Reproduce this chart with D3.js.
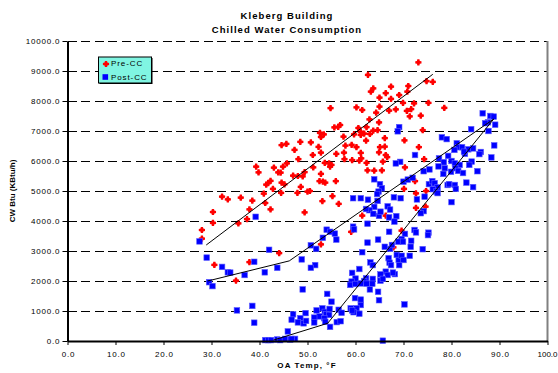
<!DOCTYPE html>
<html>
<head>
<meta charset="utf-8">
<script src="https://cdn.jsdelivr.net/npm/d3@7"></script>
<style>
  html, body { margin: 0; padding: 0; background: #ffffff; }
  svg { display: block; font-family: Arial, "Liberation Sans", sans-serif; }
</style>
</head>
<body>
<svg id="chart" width="558" height="373"></svg>
<script>
// Chart text
const titleLines = ["Kleberg Building", "Chilled Water Consumption"];
const xTitle = "OA Temp, \u00B0F";
const yTitle = "CW Btu (KBtu/h)";
const seriesNames = ["Pre-CC", "Post-CC"];

// Axis ticks
const xTicks = [0, 10, 20, 30, 40, 50, 60, 70, 80, 90, 100];
const yTicks = [0, 1000, 2000, 3000, 4000, 5000, 6000, 7000, 8000, 9000, 10000];

// Pre-CC hourly readings: [outside air temp (F), chilled water (KBtu/h)]
const preCC = [
  [44.6,6530],[45.6,6570],[39.3,5810],[39.8,5620],[43.0,5780],[43.9,5620],[44.4,5610],[44.9,5810],
  [45.7,5920],[42.3,5340],[41.8,5260],[41.4,5210],[42.8,5070],[44.6,5280],[45.2,5220],[44.5,4940],
  [40.9,4910],[32.2,4810],[33.4,4720],[36.1,4780],[38.5,4680],[41.2,4600],[42.3,4390],[37.9,4390],
  [30.3,4300],[30.3,3940],[35.6,3920],[37.4,4060],[28.0,3700],[28.0,3410],[30.6,2540],[37.9,2630],
  [44.1,2930],[35.1,2010],[62.6,8870],[63.7,8420],[63.2,8310],[67.4,8480],[66.3,8260],[65.0,8110],
  [67.4,8070],[54.8,7760],[60.2,7790],[61.4,7700],[65.0,7810],[67.0,7680],[64.3,7610],[62.9,7390],
  [64.9,7290],[55.6,7120],[56.4,7140],[56.8,7200],[60.6,7100],[62.3,7130],[64.6,7030],[63.7,7010],
  [52.6,6940],[53.4,6890],[52.8,6800],[57.5,6810],[59.7,6890],[61.1,6970],[61.8,6910],[61.1,6870],
  [63.0,6900],[62.2,6680],[66.1,6760],[48.5,6640],[50.7,6620],[47.3,6370],[52.3,6470],[57.9,6510],
  [59.2,6540],[60.2,6460],[65.1,6460],[66.1,6480],[52.8,6280],[51.1,6200],[56.0,6240],[57.6,6280],
  [61.1,6270],[64.9,6290],[66.3,6200],[66.6,6130],[48.1,6060],[57.7,6060],[59.3,6030],[61.2,6090],
  [60.8,6010],[62.3,5940],[65.7,5980],[53.6,5940],[54.5,5920],[55.0,5870],[54.7,5810],[51.2,5790],
  [49.4,5630],[62.5,5690],[63.9,5680],[65.5,5690],[47.0,5510],[48.0,5500],[49.0,5490],[52.8,5570],
  [52.5,5330],[53.2,5310],[53.7,5280],[55.9,5330],[48.6,5140],[50.0,4980],[50.5,5000],[47.9,4940],
  [53.1,4660],[55.2,4830],[56.5,4570],[49.4,4290],[61.4,4180],[66.3,4180],[59.1,3640],[52.8,3220],
  [67.9,3120],[73.1,9290],[74.8,8660],[76.1,8640],[71.0,8500],[70.8,8310],[69.1,8200],[69.9,7940],
  [72.2,7920],[75.2,7940],[68.4,7720],[70.7,7670],[71.6,7730],[78.5,7770],[71.3,7490],[73.6,7510],
  [74.0,7030],[70.2,6690],[73.2,6460],[70.3,5790],[74.3,6060],[72.4,5330],[70.1,5070],[72.6,4920],
  [74.7,5000],[72.6,4440],[74.6,4480],[69.6,3680]
];

// Post-CC hourly readings: [outside air temp (F), chilled water (KBtu/h)]
const postCC = [
  [27.5,3320],[39.2,4140],[42.0,3040],[29.0,2780],[32.2,2470],[33.4,2290],[33.9,2280],[36.9,2200],
  [38.9,2640],[41.1,2290],[43.7,2440],[29.5,1960],[30.2,1830],[35.3,1020],[38.5,1170],[38.9,610],
  [45.9,320],[41.2,30],[41.8,30],[42.4,30],[43.7,50],[44.3,30],[45.3,70],[46.4,50],
  [59.5,4760],[61.1,4760],[62.6,4710],[64.6,4670],[63.9,4470],[62.9,4360],[62.2,4400],[66.7,4490],
  [67.2,4380],[63.7,4240],[64.9,4170],[65.2,4310],[62.5,3910],[67.0,4120],[68.5,4160],[68.1,3980],
  [59.5,3810],[59.7,3720],[54.0,3710],[54.7,3640],[55.7,3580],[53.2,3440],[56.0,3380],[67.0,3640],
  [64.7,3380],[62.5,3280],[50.7,3190],[51.8,3070],[66.1,3140],[67.2,3070],[67.6,3200],[48.8,2720],
  [51.6,2530],[50.7,2440],[61.4,2960],[63.1,2620],[63.6,2530],[60.8,2400],[66.9,2760],[67.1,2610],
  [67.4,2530],[68.6,2870],[69.0,2700],[66.3,2310],[66.7,2200],[59.3,2270],[60.0,2080],[59.2,1980],
  [62.2,2090],[61.8,2000],[62.3,1910],[63.6,2070],[63.5,1910],[63.0,1720],[65.2,2220],[65.2,2010],
  [65.7,2070],[58.9,1870],[60.0,1900],[61.1,1920],[64.7,1640],[49.0,1720],[54.1,1570],[59.9,1430],
  [61.1,1380],[55.0,1310],[64.9,1360],[61.1,1200],[60.2,1090],[60.8,910],[59.6,960],[59.0,1090],
  [59.3,1020],[53.1,1090],[51.9,1020],[53.6,970],[54.6,1070],[53.9,890],[54.5,870],[52.5,820],
  [53.5,760],[53.7,640],[54.7,470],[56.5,1040],[57.1,940],[47.0,890],[49.6,930],[48.5,760],
  [49.2,590],[49.7,670],[51.4,780],[51.4,620],[48.0,620],[46.7,710],[56.1,630],[56.9,660],
  [47.4,70],[46.7,70],[65.7,10],[63.9,5390],[65.1,5230],[65.5,5090],[64.8,4980],[64.5,4900],
  [68.0,4790],[86.5,7590],[88.1,7500],[88.8,7480],[87.6,7290],[89.1,7210],[87.0,7260],[87.7,7000],
  [84.1,7060],[69.1,7130],[68.8,6990],[78.0,6790],[79.0,6730],[81.1,6590],[81.4,6460],[82.2,6460],
  [80.6,6370],[83.5,6390],[84.5,6420],[82.8,6240],[82.6,6310],[88.9,6520],[86.1,6300],[85.8,6230],
  [88.3,6120],[72.4,6200],[69.3,5970],[68.4,5920],[77.4,6090],[79.3,6170],[80.0,6000],[78.4,5960],
  [77.3,5820],[78.6,5760],[80.7,5920],[81.7,5870],[80.8,5760],[81.4,5670],[84.2,5980],[83.7,5870],
  [74.2,5660],[75.4,5720],[78.3,5570],[79.9,5640],[82.4,5600],[85.4,5660],[70.0,5310],[70.9,5380],
  [71.9,5440],[75.3,5230],[76.0,5330],[76.5,5260],[77.1,5120],[76.1,5060],[76.8,4980],[79.2,5200],
  [79.5,5230],[80.7,5200],[80.9,5070],[83.1,5280],[84.5,5130],[69.4,4760],[72.8,4720],[74.4,4810],
  [77.1,4930],[80.0,4630],[74.2,4330],[73.6,4260],[72.3,3700],[72.6,3620],[75.2,3610],[75.1,3530],
  [70.3,3570],[71.6,3340],[69.6,3400],[68.9,3310],[69.9,3310],[71.5,3140],[74.0,3060],[69.6,2840],
  [70.0,2700],[71.3,2840],[69.1,2530],[68.2,2230],[70.2,1220],[67.8,2280]
];

// Fitted model lines
const preFit = [[28.9,3200],[76.1,8890]];
const postFitUpper = [[29.2,2000],[46.2,2670],[88.8,7400]];
const postFitLower = [[42.9,30],[54.2,590],[88.8,7400]];

const svg = d3.select("#chart");

const x = d3.scaleLinear().domain([0, 100]).range([67.5, 547.5]);
const y = d3.scaleLinear().domain([0, 10000]).range([341, 41]);
const fmt = d3.format(".1f");

// Horizontal dashed gridlines
svg.append("g")
  .selectAll("line")
  .data(yTicks.filter(d => d > 0))
  .join("line")
  .attr("x1", x(0)).attr("x2", x(100))
  .attr("y1", d => Math.round(y(d)) + 0.5)
  .attr("y2", d => Math.round(y(d)) + 0.5)
  .attr("stroke", "#000")
  .attr("stroke-width", 1)
  .attr("stroke-dasharray", "9,4.6")
  .attr("shape-rendering", "crispEdges");

// Right plot border
svg.append("line")
  .attr("x1", x(100)).attr("x2", x(100))
  .attr("y1", y(10000)).attr("y2", y(0))
  .attr("stroke", "#808080").attr("stroke-width", 2);

// Markers
const crossPath = "M-1.1,-3.1L1.1,-3.1L1.4,-1.4L3.1,-1.1L3.1,1.1L1.4,1.4L1.1,3.1L-1.1,3.1L-1.4,1.4L-3.1,1.1L-3.1,-1.1L-1.4,-1.4Z";
const sq = 5.6;

svg.append("g")
  .selectAll("path")
  .data(preCC)
  .join("path")
  .attr("d", crossPath)
  .attr("transform", d => `translate(${x(d[0])},${y(d[1])})`)
  .attr("fill", "#ff0000");

svg.append("g")
  .selectAll("rect")
  .data(postCC)
  .join("rect")
  .attr("x", d => x(d[0]) - sq / 2)
  .attr("y", d => y(d[1]) - sq / 2)
  .attr("width", sq).attr("height", sq)
  .attr("fill", "#0000ff")
  .attr("stroke", "#5a5aff").attr("stroke-width", 0.6);

// Fit lines
const line = d3.line().x(d => x(d[0])).y(d => y(d[1]));
svg.append("g")
  .selectAll("path")
  .data([preFit, postFitUpper, postFitLower])
  .join("path")
  .attr("d", line)
  .attr("fill", "none")
  .attr("stroke", "#000")
  .attr("stroke-width", 1);

// Axes
const yAxis = d3.axisLeft(y).tickValues(yTicks).tickFormat(fmt).tickSize(5).tickPadding(3).tickSizeOuter(0);
const xAxis = d3.axisBottom(x).tickValues(xTicks).tickFormat(fmt).tickSize(4).tickPadding(6).tickSizeOuter(0);

const gy = svg.append("g").attr("transform", `translate(${x(0)},0)`).call(yAxis);
const gx = svg.append("g").attr("transform", `translate(0,${y(0)})`).call(xAxis);

[gx, gy].forEach(g => {
  g.select(".domain").attr("stroke", "#000").attr("stroke-width", 2);
  g.selectAll(".tick line").attr("stroke", "#000").attr("stroke-width", 1);
  g.selectAll(".tick text")
    .attr("fill", "#000")
    .style("font-family", "Arial, 'Liberation Sans', sans-serif")
    .style("font-size", "8px")
    .style("letter-spacing", "0.8px");
});
gx.selectAll(".tick text").attr("dx", "0.4px");
gy.selectAll(".tick text").attr("dx", "0.8px");
// keep the last x label inside the frame
gx.selectAll(".tick text").filter(d => d === 100)
  .style("letter-spacing", "0px").attr("dx", "-0.5px");

// Title
svg.append("g")
  .selectAll("text")
  .data(titleLines)
  .join("text")
  .attr("x", 287)
  .attr("y", (d, i) => 19 + i * 14)
  .attr("text-anchor", "middle")
  .style("font-size", "9.5px")
  .style("font-weight", "bold")
  .style("letter-spacing", "1.05px")
  .text(d => d);

// Axis titles
svg.append("text")
  .attr("x", 307).attr("y", 368)
  .attr("text-anchor", "middle")
  .style("font-size", "8px")
  .style("font-weight", "bold")
  .style("letter-spacing", "1.1px")
  .text(xTitle);

svg.append("text")
  .attr("transform", "translate(15,191) rotate(-90)")
  .attr("text-anchor", "middle")
  .style("font-size", "8px")
  .style("font-weight", "bold")
  .text(yTitle);

// Legend
const legend = svg.append("g");
legend.append("rect")
  .attr("x", 99.5).attr("y", 58).attr("width", 53).attr("height", 26)
  .attr("fill", "#000");
legend.append("rect")
  .attr("x", 98.5).attr("y", 57).attr("width", 53).attr("height", 26)
  .attr("fill", "#80f5e2").attr("stroke", "#000").attr("stroke-width", 1);
legend.append("path")
  .attr("d", crossPath)
  .attr("transform", "translate(106,64)")
  .attr("fill", "#ff0000");
legend.append("rect")
  .attr("x", 105.3 - sq / 2).attr("y", 77 - sq / 2)
  .attr("width", sq).attr("height", sq)
  .attr("fill", "#0000ff");
legend.selectAll("text.lbl")
  .data(seriesNames)
  .join("text")
  .attr("class", "lbl")
  .attr("x", 111)
  .attr("y", (d, i) => 66.3 + i * 13.3)
  .style("font-size", "8px")
  .style("letter-spacing", "0.9px")
  .text(d => d);
</script>
</body>
</html>
